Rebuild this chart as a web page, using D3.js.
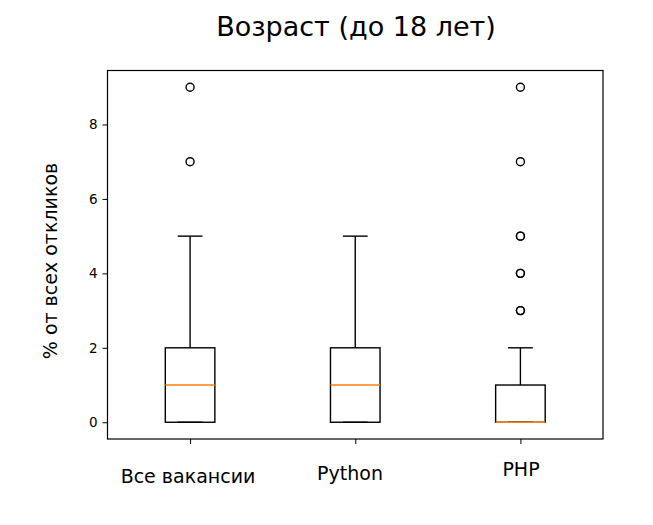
<!DOCTYPE html>
<html>
<head>
<meta charset="utf-8">
<script src="https://cdn.jsdelivr.net/npm/d3@7"></script>
<style>
  body { margin: 0; background: #fff; }
  svg { display: block; }
  .ytick text { font-family: 'DejaVu Sans', sans-serif; font-size: 13.5px; fill: #000; }
</style>
</head>
<body>
<div id="chart"></div>
<script>
// данные боксплота
var categories = ["Все вакансии", "Python", "PHP"];
var q1 = [0, 0, 0];
var medians = [1, 1, 0];
var q3 = [2, 2, 1];
var whiskerLow = [0, 0, 0];
var whiskerHigh = [5, 5, 2];
var fliers = [[7, 9], [], [3, 3, 4, 4, 5, 5, 7, 9]];
var yTicks = [0, 2, 4, 6, 8];

var title = "Возраст (до 18 лет)";
var yLabel = "% от всех откликов";

var svg_width = 653, svg_height = 525;
var hand = "'Humor Sans', 'xkcd Script', 'Comic Sans MS', 'DejaVu Sans', sans-serif";

var svg = d3.select("#chart").append("svg")
    .attr("width", svg_width)
    .attr("height", svg_height);

// границы области графика (top/left нельзя — это свойства window)
var axL = 107.5, axR = 603, axT = 70.5, axB = 439;

var x = d3.scaleLinear().domain([0.5, 3.5]).range([axL, axR]);
var y = d3.scaleLinear().domain([-0.45, 9.45]).range([axB, axT]);

var boxW = x(1.3) - x(1), capW = x(1.15) - x(1);
var lw = 1.4;

// оси
var yAxis = d3.axisLeft(y).tickValues(yTicks).tickSize(5).tickPadding(5).tickFormat(d3.format("d"));
var gy = svg.append("g").attr("class", "ytick").attr("transform", "translate(" + axL + ",0)").call(yAxis);
gy.select(".domain").remove();
gy.selectAll("line").attr("stroke", "#000").attr("stroke-width", 1);

var xAxis = d3.axisBottom(x).tickValues([1, 2, 3]).tickSize(5).tickFormat("");
var gx = svg.append("g").attr("transform", "translate(0," + axB + ")").call(xAxis);
gx.select(".domain").remove();
gx.selectAll("line").attr("stroke", "#000").attr("stroke-width", 1);

// подписи категорий (смещены чуть по вертикали, как в оригинале)
var labelY = [483, 480, 476];
var labelX = [188, 350, 521];
svg.selectAll(".xlab").data(categories).enter().append("text")
    .attr("class", "xlab")
    .attr("x", function (d, i) { return labelX[i]; })
    .attr("y", function (d, i) { return labelY[i]; })
    .attr("text-anchor", "middle")
    .style("font-family", hand)
    .style("font-size", "19px")
    .text(function (d) { return d; });

// боксы
categories.forEach(function (c, i) {
    var cx = x(i + 1);
    var g = svg.append("g");
    // усы
    g.append("line").attr("x1", cx).attr("x2", cx).attr("y1", y(q3[i])).attr("y2", y(whiskerHigh[i]))
        .attr("stroke", "#000").attr("stroke-width", lw);
    g.append("line").attr("x1", cx).attr("x2", cx).attr("y1", y(q1[i])).attr("y2", y(whiskerLow[i]))
        .attr("stroke", "#000").attr("stroke-width", lw);
    // шапки
    [whiskerLow[i], whiskerHigh[i]].forEach(function (v) {
        g.append("line").attr("x1", cx - capW / 2).attr("x2", cx + capW / 2).attr("y1", y(v)).attr("y2", y(v))
            .attr("stroke", "#000").attr("stroke-width", lw);
    });
    // коробка
    g.append("rect")
        .attr("x", cx - boxW / 2).attr("y", y(q3[i]))
        .attr("width", boxW).attr("height", y(q1[i]) - y(q3[i]))
        .attr("fill", "none").attr("stroke", "#000").attr("stroke-width", lw);
    // медиана
    g.append("line").attr("x1", cx - boxW / 2).attr("x2", cx + boxW / 2)
        .attr("y1", y(medians[i])).attr("y2", y(medians[i]))
        .attr("stroke", "#ff7f0e").attr("stroke-width", lw);
    // выбросы
    g.selectAll("circle").data(fliers[i]).enter().append("circle")
        .attr("cx", cx).attr("cy", function (d) { return y(d); })
        .attr("r", 4)
        .attr("fill", "none").attr("stroke", "#000").attr("stroke-width", 1.4);
});

// рамка
svg.append("rect")
    .attr("x", axL).attr("y", axT)
    .attr("width", axR - axL).attr("height", axB - axT)
    .attr("fill", "none").attr("stroke", "#000").attr("stroke-width", 1.2);

// заголовок
svg.append("text")
    .attr("x", 356).attr("y", 36)
    .attr("text-anchor", "middle")
    .style("font-family", hand)
    .style("font-size", "27px")
    .text(title);

// подпись оси Y
svg.append("text")
    .attr("transform", "translate(57,261) rotate(-90)")
    .attr("text-anchor", "middle")
    .style("font-family", hand)
    .style("font-size", "19px")
    .text(yLabel);
</script>
</body>
</html>
